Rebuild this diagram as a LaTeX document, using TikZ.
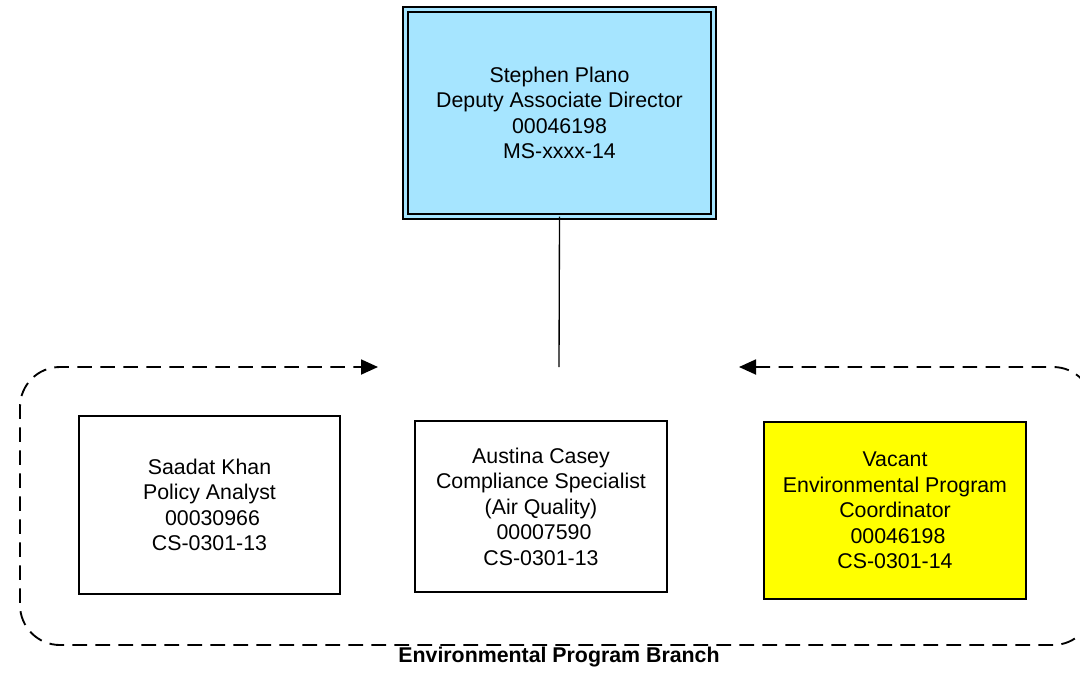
\documentclass[tikz,border=0pt]{standalone}
\usepackage{fontspec}
\setmainfont{Liberation Sans}
\usetikzlibrary{arrows.meta}
\definecolor{topblue}{RGB}{166,229,255}
\definecolor{vacyellow}{RGB}{255,255,0}
\tikzset{
  txt/.style={font=\fontsize{16}{19.1}\selectfont, align=center, inner sep=0pt, outer sep=0pt},
  person/.style={txt, draw=black, line width=1.2pt},
  topbox/.style={txt, draw=black, fill=topblue, double=topblue, double distance=2.6pt, line width=1.1pt},
  branch/.style={draw=black, line width=1.4pt, dash pattern=on 11pt off 6.25pt, rounded corners=30pt}
}
\begin{document}
\begin{tikzpicture}[x=0.75pt, y=-0.75pt]
\useasboundingbox (0,0) rectangle (1080,672);
\node[topbox, minimum width=231pt, minimum height=155.25pt] (top) at (559.5,113)
  {Stephen Plano\\Deputy Associate Director\\00046198\\MS-xxxx-14};
\node[person, minimum width=195.75pt, minimum height=133.5pt] (khan) at (209.5,505)
  {Saadat Khan\\Policy Analyst\\\hspace*{0.28em}00030966\\CS-0301-13};
\node[person, minimum width=189pt, minimum height=128.25pt] (casey) at (541,506.5)
  {Austina Casey\\Compliance Specialist\\(Air Quality)\\\hspace*{0.28em}00007590\\CS-0301-13};
\node[person, fill=vacyellow, minimum width=196.5pt, minimum height=132.75pt] (vacant) at (895,510.5)
  {Vacant\\Environmental Program\\Coordinator\\\hspace*{0.28em}00046198\\CS-0301-14};
\node[txt, font=\fontsize{16}{19.1}\selectfont\bfseries] (label) at (559,657) {Environmental Program Branch};
\coordinate (join) at (559,367);
\coordinate (la) at (378,367);
\coordinate (ra) at (739,367);
\draw[line width=1pt] (top.south) -- (join);
\draw[branch, {Triangle[length=12.75pt,width=11.25pt]}-{Triangle[length=12.75pt,width=11.25pt]}]
  (ra) -- (1093,367) -- (1093,645) -- (20,645) -- (20,367) -- (la);
\end{tikzpicture}
\end{document}
